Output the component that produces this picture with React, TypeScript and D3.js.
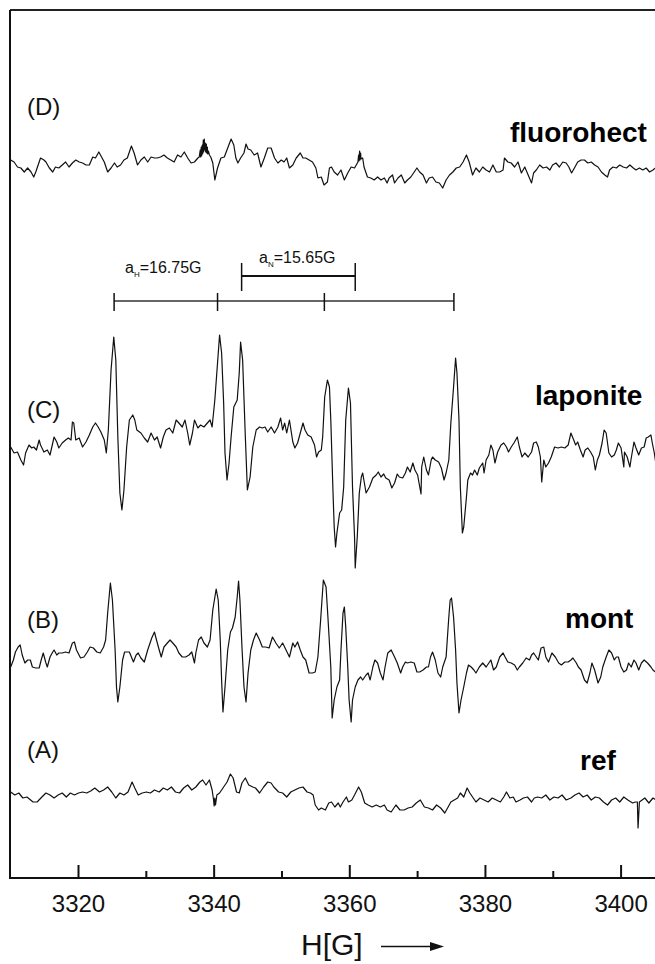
import React from 'react';
import * as d3 from 'd3';

// field axis
const fieldDomain = [3309.9, 3405];
const majorTicks = [3320, 3340, 3360, 3380, 3400];
const minorTicks = [3330, 3350, 3370, 3390];

// spectra: [field (G), intensity (a.u.)]
const specD: [number, number][] = [
  [3310.0,5],[3310.5,3],[3311.0,-2],[3311.5,-3],[3312.0,-7],[3312.5,-3],[3313.0,-7],[3313.4,-12],[3313.7,-7],[3314.2,3],[3314.4,7],[3314.9,5],[3315.2,3],[3315.7,-3],[3316.2,-7],[3316.6,-2],[3317.1,-3],[3317.6,0],[3318.1,3],[3318.6,-2],[3319.1,2],[3319.6,5],[3320.1,3],[3320.6,2],[3321.1,0],[3321.6,0],[3322.1,8],[3322.5,7],[3323.0,13],[3323.4,8],[3323.8,3],[3324.3,-7],[3324.8,-3],[3325.3,2],[3325.7,-2],[3326.2,0],[3326.7,5],[3327.2,7],[3327.8,19],[3328.2,12],[3328.7,0],[3329.2,5],[3329.7,8],[3330.2,3],[3330.7,8],[3331.2,7],[3331.6,7],[3332.1,8],[3332.6,10],[3333.1,7],[3333.6,5],[3334.1,3],[3334.6,10],[3335.1,8],[3335.6,13],[3336.1,7],[3336.6,2],[3337.1,3],[3337.6,7],[3337.8,8],
  [3337.95,15],[3338.0,8],[3338.1,18],[3338.15,9],[3338.25,20],[3338.3,11],[3338.4,25],[3338.45,13],[3338.55,26],[3338.6,15],[3338.7,22],[3338.75,13],[3338.85,21],[3338.9,12],[3339.0,18],[3339.05,11],[3339.15,14],
  [3339.3,10],[3339.5,8],[3339.8,2],[3340.1,-15],[3340.5,-3],[3341.0,7],[3341.5,8],[3342.0,17],[3342.5,26],[3342.9,20],[3343.2,7],[3343.5,2],[3343.9,7],[3344.4,12],[3344.7,21],[3345.0,16],[3345.4,15],[3345.9,10],[3346.4,12],[3346.9,-2],[3347.4,7],[3347.9,17],[3348.4,17],[3348.9,7],[3349.4,2],[3349.9,5],[3350.3,3],[3350.7,7],[3351.1,-3],[3351.6,0],[3352.1,7],[3352.7,12],[3353.1,7],[3353.5,7],[3354.0,5],[3354.5,3],[3355.0,-3],[3355.3,-13],[3355.8,-12],[3356.2,-20],[3356.7,-17],[3357.0,-3],[3357.3,-2],
  [3357.7,-7],[3358.2,-10],[3358.7,-5],[3359.2,-15],[3359.7,-8],[3360.2,-2],[3360.7,-3],[3361.2,3],
  [3361.3,10],[3361.35,4],[3361.45,14],[3361.5,5],[3361.6,12],[3361.65,6],
  [3361.9,7],[3362.1,-2],[3362.6,-12],[3363.1,-13],[3363.6,-15],[3364.1,-12],[3364.6,-15],[3365.1,-13],[3365.5,-18],[3365.8,-13],[3366.3,-10],[3366.6,-18],[3367.1,-13],[3367.6,-10],[3368.1,-18],[3368.5,-15],[3369.0,-12],[3369.5,-7],[3369.9,-3],[3370.3,-7],[3370.8,-10],[3371.3,-18],[3371.7,-13],[3372.2,-12],[3372.7,-17],[3373.2,-18],[3373.7,-23],[3374.2,-15],[3374.7,-10],[3375.2,-7],[3375.7,-3],[3376.2,-2],[3376.7,3],[3377.2,10],[3377.6,3],[3378.1,-10],[3378.6,-3],[3379.1,-7],[3379.6,-2],[3380.1,-5],[3380.6,-7],[3381.1,0],[3381.6,-7],[3382.1,-7],[3382.6,-5],[3382.8,7],[3383.3,3],[3383.8,2],[3384.3,-2],[3384.8,3],[3385.3,-8],[3385.8,-2],[3386.3,-10],[3386.8,-18],[3387.1,-8],[3387.5,-5],[3388.0,0],[3388.5,-3],[3389.0,-2],[3389.5,-5],[3389.9,0],[3390.4,2],[3390.9,-2],[3391.4,3],[3391.9,2],[3392.3,-2],[3392.7,-8],[3393.2,-2],[3393.6,3],[3394.1,5],[3394.6,5],[3395.1,2],[3395.6,3],[3396.1,0],[3396.6,-2],[3397.1,-7],[3397.6,-10],[3398.0,-12],[3398.3,-5],[3398.8,-2],[3399.3,-3],[3399.8,0],[3400.3,-2],[3400.8,-3],[3401.3,0],[3401.8,-3],[3402.2,-5],[3402.7,-3],[3403.2,-5],[3403.7,-3],[3404.2,-7],[3404.7,-5],[3405.2,-2],
];

const specC: [number, number][] = [
  [3310.0,8],[3310.5,2],[3311.0,3],[3311.5,-5],[3311.9,-10],[3312.2,2],[3312.7,10],[3313.1,7],[3313.4,8],[3313.8,5],[3314.2,15],[3314.4,10],[3314.9,3],[3315.4,5],[3315.8,0],[3316.2,12],[3316.4,18],[3316.8,13],[3317.1,7],[3317.6,12],[3318.1,15],[3318.5,17],[3318.9,15],[3319.1,33],[3319.3,32],[3319.6,15],[3320.1,17],[3320.6,8],[3321.1,13],[3321.6,20],[3322.1,28],[3322.5,32],[3322.9,28],[3323.3,23],[3323.8,15],[3324.1,2],[3324.4,25],[3324.8,85],[3325.2,118],[3325.5,95],[3325.8,18],[3326.1,-38],[3326.4,-55],[3326.7,-35],[3327.1,8],[3327.5,35],[3328.0,40],[3328.3,35],[3328.6,25],[3329.2,22],[3329.7,17],[3330.2,13],[3330.7,22],[3331.2,15],[3331.6,18],[3332.1,7],[3332.5,18],[3332.9,25],[3333.4,27],[3333.9,22],[3334.4,35],[3334.8,32],[3335.3,28],[3335.7,35],[3336.1,22],[3336.4,10],[3336.8,22],[3337.1,35],[3337.6,27],[3338.0,30],[3338.5,28],[3339.0,32],[3339.4,35],[3339.7,28],[3340.1,55],[3340.5,92],[3340.8,120],[3341.1,102],[3341.4,52],[3341.6,2],[3341.9,-25],[3342.2,-8],[3342.5,18],[3342.9,48],[3343.4,55],[3343.7,82],[3343.9,113],[3344.2,95],[3344.6,18],[3344.9,-35],[3345.3,-22],[3345.7,8],[3346.2,25],[3346.7,28],[3347.1,27],[3347.5,28],[3347.9,23],[3348.4,28],[3348.9,22],[3349.4,28],[3349.8,37],[3350.1,25],[3350.4,32],[3350.7,22],[3351.1,35],[3351.6,13],[3351.9,7],[3352.3,12],[3352.7,22],[3353.1,32],[3353.4,25],[3353.8,20],[3354.3,18],[3354.8,10],[3355.1,-2],[3355.4,3],[3355.8,5],[3356.0,18],[3356.3,58],[3356.7,75],[3357.0,68],[3357.2,35],
  [3357.5,-32],[3357.7,-72],[3357.9,-92],[3358.1,-78],[3358.5,-58],[3358.8,-55],[3359.1,-32],[3359.4,35],[3359.8,67],[3360.1,52],[3360.4,-32],[3360.7,-82],[3360.8,-113],[3361.1,-82],[3361.4,-38],[3361.7,-22],[3361.9,-18],[3362.4,-38],[3362.9,-32],[3363.4,-23],[3363.9,-20],[3364.2,-17],[3364.6,-22],[3365.0,-19],[3365.3,-23],[3365.8,-25],[3366.2,-33],[3366.6,-28],[3367.0,-19],[3367.3,-22],[3367.8,-23],[3368.2,-18],[3368.5,-12],[3368.9,-17],[3369.3,-8],[3369.6,-15],[3370.0,-20],[3370.5,-39],[3370.6,-12],[3370.9,-2],[3371.3,-15],[3371.6,-20],[3372.0,-5],[3372.2,-2],[3372.6,-5],[3373.1,-7],[3373.5,-13],[3373.9,-25],[3374.2,-18],[3374.6,-5],[3374.9,32],[3375.3,68],[3375.6,97],[3375.8,82],[3376.1,35],[3376.3,-32],[3376.6,-78],[3376.8,-72],[3377.2,-42],[3377.4,-25],[3377.8,-18],[3378.1,-20],[3378.4,-15],[3378.8,-20],[3379.1,-13],[3379.6,-8],[3379.8,-18],[3380.1,-5],[3380.5,0],[3380.8,10],[3381.1,5],[3381.4,-8],[3381.8,3],[3382.3,10],[3382.7,12],[3383.1,8],[3383.4,3],[3383.8,8],[3384.2,12],[3384.7,18],[3385.0,8],[3385.4,-2],[3385.8,2],[3386.3,-2],[3386.8,3],[3387.1,12],[3387.5,13],[3387.8,8],[3388.1,-2],[3388.3,-27],[3388.6,-5],[3388.9,-12],[3389.3,-8],[3389.7,-2],[3390.2,8],[3390.7,7],[3391.2,8],[3391.7,7],[3392.2,10],[3392.6,22],[3392.9,17],[3393.3,10],[3393.6,13],[3394.0,5],[3394.4,-2],[3394.7,5],[3395.1,7],[3395.5,3],[3395.9,-2],[3396.2,-15],[3396.5,-5],[3396.8,0],[3397.2,12],[3397.5,25],[3397.8,22],[3398.2,2],[3398.6,-2],[3399.0,0],[3399.3,5],[3399.6,12],[3400.0,7],[3400.4,-12],[3400.5,3],[3400.9,-2],[3401.3,-12],[3401.5,-3],[3401.9,13],[3402.2,7],[3402.6,0],[3403.0,7],[3403.4,8],[3403.7,17],[3404.0,18],[3404.4,20],[3404.6,12],[3404.9,2],[3405.2,-12],
];

const specB: [number, number][] = [
  [3310.0,-17],[3310.4,-10],[3310.7,-2],[3311.1,3],[3311.4,5],[3311.7,-5],[3312.1,-13],[3312.5,-10],[3312.9,-10],[3313.2,-17],[3313.7,-18],[3314.2,-18],[3314.5,-10],[3314.8,-3],[3315.2,-13],[3315.4,-17],[3315.8,-7],[3316.2,-2],[3316.4,0],[3316.8,-5],[3317.1,-3],[3317.6,-3],[3318.1,-2],[3318.6,-3],[3319.1,7],[3319.4,8],[3319.7,0],[3320.3,-8],[3320.8,-7],[3321.3,-2],[3321.7,3],[3322.2,2],[3322.7,-2],[3323.2,-3],[3323.7,3],[3324.0,10],[3324.3,37],[3324.7,67],[3325.0,50],[3325.4,0],[3325.6,-37],[3325.8,-52],[3326.1,-37],[3326.5,-10],[3326.8,-2],[3327.5,-2],[3327.8,-7],[3328.1,-12],[3328.5,-5],[3328.8,-3],[3329.2,-8],[3329.7,-12],[3330.2,0],[3330.8,12],[3331.2,18],[3331.5,10],[3331.9,0],[3332.2,-7],[3332.6,3],[3333.1,7],[3333.5,10],[3333.9,7],[3334.4,3],[3334.8,-3],[3335.3,-7],[3335.8,-7],[3336.3,-5],[3336.7,-2],[3337.1,-13],[3337.3,-3],[3337.7,10],[3338.1,13],[3338.5,7],[3339.0,3],[3339.4,10],[3339.8,40],[3340.3,61],[3340.6,50],[3340.9,10],[3341.1,-30],[3341.3,-62],[3341.6,-37],[3342.0,0],[3342.4,18],[3342.7,22],[3343.1,33],[3343.4,53],[3343.6,69],[3343.8,50],[3344.1,3],[3344.4,-37],[3344.7,-52],[3345.0,-23],[3345.4,0],[3345.8,10],[3346.2,17],[3346.7,10],[3347.1,3],[3347.6,3],[3348.1,2],[3348.6,13],[3349.1,7],[3349.6,2],[3350.1,7],[3350.6,0],[3351.1,-7],[3351.6,7],[3351.9,3],[3352.3,8],[3352.7,0],[3353.1,-7],[3353.5,-10],[3354.0,-23],[3354.5,-23],[3354.9,-22],[3355.3,-7],[3355.7,30],[3356.1,70],[3356.5,63],[3356.8,30],[3357.2,-17],
  [3357.4,-68],[3357.7,-50],[3358.1,-37],[3358.5,-30],[3358.7,0],[3359.0,37],[3359.2,43],[3359.4,23],[3359.7,-17],[3359.9,-50],[3360.2,-72],[3360.4,-50],[3360.8,-37],[3361.2,-30],[3361.6,-27],[3361.9,-30],[3362.4,-25],[3362.7,-23],[3363.0,-30],[3363.4,-17],[3363.7,-10],[3364.1,-13],[3364.5,-23],[3364.9,-30],[3365.2,-17],[3365.6,-3],[3366.1,0],[3366.6,-7],[3367.0,-13],[3367.5,-23],[3367.8,-17],[3368.2,-12],[3368.5,-13],[3369.0,-12],[3369.5,-13],[3369.9,-22],[3370.3,-22],[3370.8,-20],[3371.3,-17],[3371.6,-17],[3371.9,-7],[3372.2,-2],[3372.6,-10],[3373.0,-23],[3373.4,-27],[3373.7,-17],[3374.2,-7],[3374.6,33],[3374.8,50],[3375.0,52],[3375.3,33],[3375.6,0],[3375.8,-33],[3376.1,-63],[3376.4,-50],[3376.8,-37],[3377.2,-23],[3377.5,-15],[3377.9,-17],[3378.3,-20],[3378.6,-23],[3379.1,-17],[3379.6,-13],[3380.1,-17],[3380.5,-13],[3380.8,-10],[3381.2,-20],[3381.6,-17],[3382.1,-7],[3382.6,-3],[3382.9,-7],[3383.3,-12],[3383.8,-13],[3384.3,-15],[3384.7,-20],[3385.0,-17],[3385.5,-13],[3386.0,-8],[3386.5,-10],[3386.8,-5],[3387.1,-3],[3387.5,-7],[3387.8,-10],[3388.2,2],[3388.6,3],[3388.9,-7],[3389.3,-12],[3389.8,-3],[3390.3,-7],[3390.8,-13],[3391.2,-15],[3391.7,-12],[3392.2,-12],[3392.6,-10],[3392.9,-8],[3393.4,-13],[3393.7,-17],[3394.1,-20],[3394.6,-30],[3395.0,-33],[3395.4,-23],[3395.7,-13],[3396.1,-20],[3396.6,-33],[3397.0,-27],[3397.3,-17],[3397.8,-7],[3398.2,0],[3398.6,-3],[3399.0,-10],[3399.3,-7],[3399.6,-7],[3400.0,-17],[3400.4,-22],[3400.8,-20],[3401.1,-13],[3401.5,-17],[3401.9,-10],[3402.2,-13],[3402.6,-20],[3403.0,-13],[3403.4,-10],[3403.9,-13],[3404.4,-17],[3404.7,-20],[3405.2,-23],
];

const specA: [number, number][] = [
  [3310.0,3],[3310.6,0],[3311.2,2],[3311.8,-3],[3312.4,-2],[3313.3,-7],[3313.9,-7],[3314.6,-2],[3315.2,2],[3315.8,0],[3316.4,-3],[3317.0,0],[3317.6,2],[3318.2,-2],[3318.8,2],[3319.4,0],[3320.0,2],[3320.6,3],[3321.2,2],[3321.8,4],[3322.4,7],[3323.1,3],[3323.7,5],[3324.3,8],[3324.9,3],[3325.5,-3],[3326.1,2],[3326.7,0],[3327.3,3],[3327.9,13],[3328.3,7],[3328.8,0],[3329.4,2],[3330.0,3],[3330.6,2],[3331.2,5],[3331.9,3],[3332.5,7],[3333.1,5],[3333.7,8],[3334.3,3],[3334.9,2],[3335.5,7],[3336.1,10],[3336.7,5],[3337.3,8],[3337.9,13],[3338.3,15],[3338.8,10],[3339.3,15],[3339.7,5],[3339.9,-4],[3340.0,-11],[3340.1,-3],[3340.2,-10],[3340.4,0],[3340.8,2],[3341.3,7],[3341.9,13],[3342.4,21],[3342.8,17],[3343.3,3],[3343.7,2],[3344.1,12],[3344.6,17],[3345.1,10],[3345.7,8],[3346.1,7],[3346.7,2],[3347.3,8],[3347.9,13],[3348.4,12],[3348.8,8],[3349.5,3],[3350.1,2],[3350.7,-2],[3351.3,3],[3351.9,5],[3352.5,7],[3353.1,8],[3353.7,3],[3354.2,2],[3354.6,0],[3354.9,-10],[3355.4,-15],[3355.8,-13],[3356.4,-15],[3356.9,-8],[3357.3,-7],[3357.8,-12],[3358.3,-8],[3358.6,-12],[3359.0,-7],[3359.5,-2],[3359.8,-7],[3360.3,-5],[3360.7,0],[3361.3,8],[3361.7,3],[3362.2,-8],[3362.7,-10],[3363.3,-12],[3363.9,-10],[3364.5,-12],[3365.1,-10],[3365.5,-15],[3366.1,-17],[3366.8,-10],[3367.4,-15],[3368.0,-15],[3368.6,-13],[3369.2,-12],[3369.8,-8],[3370.4,-5],[3371.0,-12],[3371.6,-13],[3372.2,-15],[3372.8,-10],[3373.4,-13],[3374.0,-18],[3374.5,-12],[3374.9,-7],[3375.4,-5],[3375.9,-3],[3376.3,2],[3376.8,-2],[3377.3,7],[3377.7,2],[3378.1,-2],[3378.6,-7],[3379.2,-3],[3379.8,-5],[3380.4,-7],[3381.0,-3],[3381.6,-5],[3382.2,-7],[3382.7,-2],[3383.1,3],[3383.6,-3],[3384.1,-2],[3384.5,-7],[3385.1,-5],[3385.6,-3],[3386.2,-2],[3386.8,-7],[3387.2,-3],[3387.7,-2],[3388.3,-3],[3388.9,0],[3389.5,-5],[3390.1,-2],[3390.7,-3],[3391.3,0],[3391.9,-5],[3392.6,-3],[3393.2,0],[3393.8,2],[3394.4,-2],[3395.0,0],[3395.6,-5],[3396.2,-2],[3396.8,-3],[3397.4,-7],[3398.0,-10],[3398.6,-5],[3399.2,-3],[3399.8,-7],[3400.4,-2],[3401.0,-5],[3401.7,-8],[3402.1,-7],[3402.4,-7],[3402.5,-33],[3402.7,-7],[3403.5,-3],[3404.1,-8],[3404.7,-3],[3405.2,-5],
];

// stacking: bottom to top
const spectra = [specA, specB, specC, specD];
const baselines = [83, 228, 423, 713];
const panelTags = ['(A)', '(B)', '(C)', '(D)'];
const sampleNames = ['ref', 'mont', 'laponite', 'fluorohect'];

// hyperfine splitting markers (G)
const splitH = [3325.25, 3340.5, 3356.25, 3375.35];
const splitN = [3344.05, 3360.8];

const W = 655;
const H = 964;
const left = 10;
const top = 10;
const bottom = 878;
const font = '"Liberation Sans", Arial, Helvetica, sans-serif';

// text placement (px)
const tagPos = [[27, 758], [27, 628], [27, 418], [27, 115]];
const namePos = [[580, 770], [565, 628], [535, 405], [510, 142]];

export default function App() {
  const x = d3.scaleLinear().domain(fieldDomain).range([left, W]);
  const y = d3.scaleLinear().domain([0, bottom - top]).range([bottom, top]);

  const path = (data: [number, number][], base: number) =>
    d3.line<[number, number]>()
      .x(d => x(d[0]))
      .y(d => y(d[1] + base))(data) || '';

  const lowY = 301;
  const upY = 276;

  return (
    <svg width={W} height={H} style={{ position: 'absolute', left: 0, top: 0, background: '#fff' }}
      fontFamily={font}>
      <defs>
        <clipPath id="plotArea">
          <rect x={left} y={top} width={W - left} height={bottom - top} />
        </clipPath>
      </defs>

      {/* frame */}
      <line x1={left} x2={W} y1={top} y2={top} stroke="#222" strokeWidth={2} />
      <line x1={left} x2={left} y1={top} y2={bottom} stroke="#111" strokeWidth={2} />
      <line x1={left - 1} x2={W} y1={bottom} y2={bottom} stroke="#111" strokeWidth={2.2} />

      {majorTicks.map(t => (
        <g key={t}>
          <line x1={x(t)} x2={x(t)} y1={bottom} y2={bottom - 13} stroke="#111" strokeWidth={2} />
          <text x={x(t)} y={911.5} textAnchor="middle" fontSize={24} fill="#111">{t}</text>
        </g>
      ))}
      {minorTicks.map(t => (
        <line key={t} x1={x(t)} x2={x(t)} y1={bottom} y2={bottom - 7} stroke="#111" strokeWidth={2} />
      ))}

      {/* axis title */}
      <text x={301} y={955} fontSize={30} fill="#111">H[G]</text>
      <line x1={381} x2={432} y1={946.5} y2={946.5} stroke="#111" strokeWidth={1.5} />
      <path d="M444,946.5 L430,942 L430,951 Z" fill="#111" />

      {/* spectra */}
      <g clipPath="url(#plotArea)">
        {spectra.map((s, i) => (
          <path key={i} d={path(s, baselines[i])} fill="none" stroke="#111"
            strokeWidth={1.2} strokeLinejoin="round" />
        ))}
      </g>

      {panelTags.map((t, i) => (
        <text key={t} x={tagPos[i][0]} y={tagPos[i][1]} fontSize={24} fill="#111">{t}</text>
      ))}
      {sampleNames.map((n, i) => (
        <text key={n} x={namePos[i][0]} y={namePos[i][1]} fontSize={28} fontWeight="bold" fill="#000">{n}</text>
      ))}

      {/* hyperfine markers */}
      <line x1={x(splitH[0])} x2={x(splitH[splitH.length - 1])} y1={lowY} y2={lowY} stroke="#333" strokeWidth={1.5} />
      {splitH.map((g, i) => (
        <line key={i} x1={x(g)} x2={x(g)} y1={lowY - 8} y2={lowY + 10} stroke="#111" strokeWidth={1.5} />
      ))}
      <line x1={x(splitN[0])} x2={x(splitN[1])} y1={upY} y2={upY} stroke="#111" strokeWidth={2} />
      {splitN.map((g, i) => (
        <line key={i} x1={x(g)} x2={x(g)} y1={upY - 13} y2={upY + 15} stroke="#111" strokeWidth={1.5} />
      ))}
      <text x={125} y={273} fontSize={16} fill="#111">
        a<tspan fontSize={8} dy={4}>H</tspan><tspan dy={-4}>=16.75G</tspan>
      </text>
      <text x={259} y={263} fontSize={16} fill="#111">
        a<tspan fontSize={8} dy={4}>N</tspan><tspan dy={-4}>=15.65G</tspan>
      </text>
    </svg>
  );
}
